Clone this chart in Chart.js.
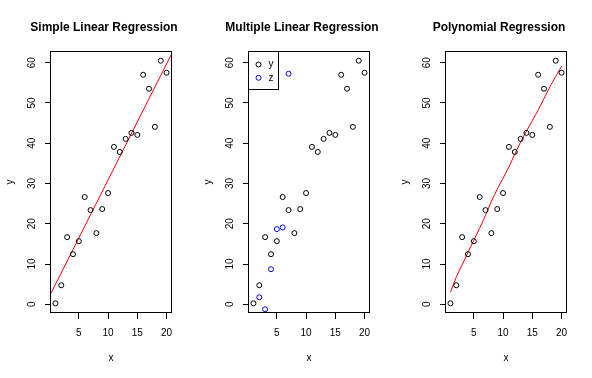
<!DOCTYPE html>
<html lang="en">
<head>
<meta charset="UTF-8">
<script src="https://cdn.jsdelivr.net/npm/chart.js"></script>
<title>Regression panels</title>
<style>
  body { margin: 0; background: #fff; }
  canvas { position: absolute; top: 0; }
</style>
</head>
<body>
<canvas id="c1" width="197" height="378" style="left:0px"></canvas>
<canvas id="c2" width="197" height="378" style="left:198px"></canvas>
<canvas id="c3" width="197" height="378" style="left:395px"></canvas>
<script>
// data
const xs = [1, 2, 3, 4, 5, 6, 7, 8, 9, 10, 11, 12, 13, 14, 15, 16, 17, 18, 19, 20];
const ys = [0.25, 4.73, 16.68, 12.45, 15.68, 26.64, 23.4, 17.68, 23.65, 27.63,
            39.09, 37.84, 41.08, 42.57, 42.07, 57.01, 53.53, 44.07, 60.5, 57.51];
const zXs = [2, 3, 4, 5, 6, 7];
const zs = [1.74, -1.24, 8.71, 18.67, 19.09, 57.26];
const linFitX = [0.24, 20.76];
const linFitY = [2.76, 61.9];
const polyFitY = [3.0, 6.8, 9.8, 12.9, 15.9, 18.9, 22.1, 25.6, 28.6, 31.3,
                  34.1, 37.3, 40.3, 43.0, 45.6, 48.2, 51.1, 54.0, 56.6, 59.1];
const titles = ['Simple Linear Regression', 'Multiple Linear Regression', 'Polynomial Regression'];
const xRange = [0.24, 20.76];
const yRange = [-2.16, 62.91];

Chart.defaults.font.family = '"Liberation Sans", Arial, sans-serif';
Chart.defaults.font.size = 10;
Chart.defaults.color = '#000';

const pts = (a, b) => a.map((v, i) => ({x: v, y: b[i]}));

function scatter(label, data, color) {
  return {
    type: 'scatter', label, data,
    borderColor: color, backgroundColor: 'rgba(0,0,0,0)',
    pointRadius: 2.5, pointBorderWidth: 1, showLine: false
  };
}
function fitLine(data) {
  return {
    type: 'line', label: 'fit', data,
    borderColor: '#ff0000', borderWidth: 1, pointRadius: 0, tension: 0
  };
}

// frame around the plot region, plus the boxed legend in panel 2
const frame = {
  id: 'frame',
  afterDraw(chart) {
    const {ctx, chartArea: a} = chart;
    ctx.save();
    ctx.strokeStyle = '#000';
    ctx.lineWidth = 1;
    ctx.strokeRect(Math.round(a.left) - 0.5, Math.round(a.top) + 0.5,
                   Math.round(a.right - a.left) + 1, Math.round(a.bottom - a.top) - 1);
    if (chart.options.plugins.boxLegend) {
      const items = chart.data.datasets.filter(d => d.type === 'scatter');
      const x0 = Math.round(a.left) - 0.5, y0 = Math.round(a.top) + 0.5;
      ctx.strokeRect(x0, y0, 30, 38);
      ctx.font = '10px "Liberation Sans", Arial, sans-serif';
      ctx.textBaseline = 'middle';
      ctx.textAlign = 'left';
      ctx.fillStyle = '#000';
      items.forEach((d, i) => {
        const cy = y0 + 13 + i * 13.3;
        ctx.beginPath();
        ctx.arc(x0 + 10, cy, 2.5, 0, Math.PI * 2);
        ctx.strokeStyle = d.borderColor;
        ctx.stroke();
        ctx.fillText(d.label, x0 + 20, cy);
      });
    }
    ctx.restore();
  }
};

function axis(min, max, step, name, vertical) {
  const s = {
    type: 'linear', min, max,
    ticks: {stepSize: step, includeBounds: false, padding: 8, autoSkip: false},
    grid: {display: true, drawOnChartArea: false, drawTicks: true, tickLength: 6, color: '#000'},
    border: {display: false},
    title: {display: true, text: name, padding: {top: 0, bottom: 14}}
  };
  if (vertical) {
    s.ticks = {stepSize: step, includeBounds: false, padding: 7, autoSkip: false,
               minRotation: 90, maxRotation: 90, crossAlign: 'center'};
    s.title.padding = {top: -20, bottom: 0};
    s.afterFit = sc => { sc.width = 27; };
  } else {
    s.afterFit = sc => { sc.height = 65; };
  }
  return s;
}

// empty right-hand box, only to keep the plot region where R puts it
const spacer = {
  type: 'linear', position: 'right', display: true,
  grid: {display: false}, border: {display: false},
  ticks: {display: false}, title: {display: false},
  afterFit: sc => { sc.width = 13; }
};

function makeChart(id, title, datasets, legend) {
  return new Chart(document.getElementById(id), {
    data: {datasets},
    options: {
      responsive: false,
      animation: false,
      events: [],
      layout: {padding: {left: 24, right: 13, top: 0, bottom: 0}},
      scales: {
        x: axis(xRange[0], xRange[1], 5, 'x', false),
        y: axis(yRange[0], yRange[1], 10, 'y', true),
        pad: spacer
      },
      plugins: {
        legend: {display: false},
        tooltip: {enabled: false},
        boxLegend: legend,
        title: {
          display: true, text: title, color: '#000',
          font: {size: 12, weight: 'bold'},
          padding: {top: 20.5, bottom: 16.1}
        }
      }
    },
    plugins: [frame]
  });
}

makeChart('c1', titles[0], [
  scatter('y', pts(xs, ys), '#000'),
  fitLine(pts(linFitX, linFitY))
], false);

makeChart('c2', titles[1], [
  scatter('y', pts(xs, ys), '#000'),
  scatter('z', pts(zXs, zs), '#0000ff')
], true);

makeChart('c3', titles[2], [
  scatter('y', pts(xs, ys), '#000'),
  fitLine(pts(xs, polyFitY))
], false);
</script>
</body>
</html>
